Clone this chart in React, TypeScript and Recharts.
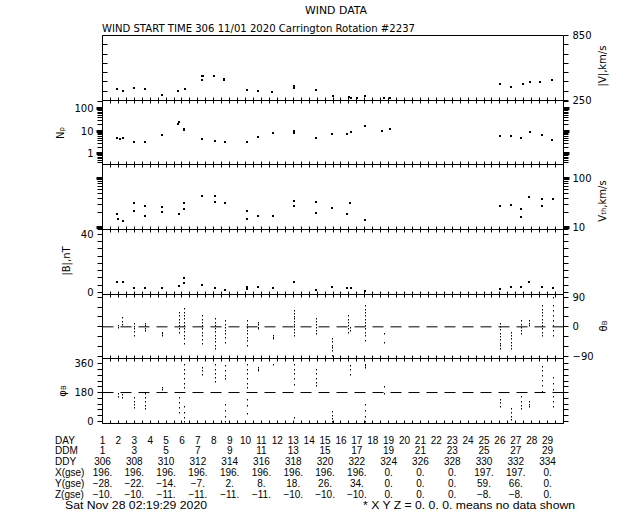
import { ReferenceLine, Scatter, ScatterChart, XAxis, YAxis } from "recharts"

// bottom table
const dayNums = [1, 2, 3, 4, 5, 6, 7, 8, 9, 10, 11, 12, 13, 14, 15, 16, 17, 18, 19, 20, 21, 22, 23, 24, 25, 26, 27, 28, 29]
const ddm = [1, 3, 5, 7, 9, 11, 13, 15, 17, 19, 21, 23, 25, 27, 29]
const ddy = [306, 308, 310, 312, 314, 316, 318, 320, 322, 324, 326, 328, 330, 332, 334]
const xGse = [196, 196, 196, 196, 196, 196, 196, 196, 196, 0, 0, 0, 197, 197, 0]
const yGse = [-28, -22, -14, -7, 2, 8, 18, 26, 34, 0, 0, 0, 59, 66, 0]
const zGse = [-10, -10, -11, -11, -11, -11, -10, -10, -10, 0, 0, 0, -8, -8, 0]
const rowNames = ["DAY", "DDM", "DDY", "X(gse)", "Y(gse)", "Z(gse)"]

// [day of month, value]
const speed: [number, number][] = [
  [1.92, 352], [2.28, 342], [2.97, 364], [3.66, 354], [4.75, 303], [5.74, 342], [6.18, 358],
  [7.27, 472], [7.27, 441], [7.3, 480], [8.04, 472], [8.67, 450], [8.67, 435], [10.1, 349],
  [10.8, 340], [11.67, 327], [13.03, 388], [13.05, 367], [14.4, 349], [15.5, 296], [16.5, 280],
  [16.65, 275], [17.0, 271], [17.5, 287], [18.7, 275], [19.1, 275], [25.99, 404], [26.7, 379],
  [27.46, 404], [27.87, 425], [28.55, 425], [29.28, 435],
]
const density: [number, number][] = [
  [1.92, 4.9], [2.1, 4.7], [2.3, 4.8], [2.97, 3.3], [3.7, 3.3], [4.75, 7], [5.8, 25], [5.75, 20],
  [6.1, 13], [6.12, 11], [7.26, 4.6], [8.06, 3.8], [8.68, 3.4], [10.1, 3.2], [10.8, 5.5],
  [11.74, 8.2], [13.03, 10.5], [13.05, 8.5], [14.4, 4.9], [15.45, 7.7], [16.4, 7.2], [16.65, 9.2],
  [17.5, 16.8], [18.6, 10], [19.1, 12], [26.0, 6.1], [26.7, 6.1], [27.35, 4.9], [27.9, 9.1],
  [28.65, 7], [29.3, 4.3],
]
const thermal: [number, number][] = [
  [1.92, 19], [1.95, 15], [2.3, 13.7], [2.97, 32], [2.97, 22], [3.7, 27], [3.7, 17], [4.75, 26],
  [4.75, 21], [5.8, 19], [6.11, 31], [6.11, 24], [7.26, 45], [8.06, 45], [8.06, 33], [8.69, 32],
  [10.07, 22], [10.07, 15], [10.79, 17.4], [11.74, 17.4], [13.03, 35], [13.03, 28], [14.4, 33],
  [14.4, 20], [15.45, 25], [16.4, 19], [16.6, 31], [17.5, 13.8], [26.0, 28], [26.7, 29],
  [27.35, 24], [27.35, 16], [27.81, 42], [28.65, 39], [28.65, 28], [29.34, 39],
]
const bMag: [number, number][] = [
  [1.92, 7.1], [2.3, 7.1], [2.97, 3], [3.7, 3], [4.75, 3], [5.8, 4.3], [6.11, 9.7], [6.11, 6.2],
  [7.26, 5.3], [8.06, 3], [8.69, 1.4], [10.07, 3.7], [10.07, 2.5], [10.79, 3.7], [11.74, 3],
  [13.03, 7.1], [14.4, 1.4], [15.45, 3.7], [16.4, 3.2], [16.65, 3.2], [17.5, 0.7], [26.03, 2.5],
  [26.72, 3.7], [27.35, 4.1], [27.81, 7.1], [28.65, 4.1], [29.34, 3],
]
// [day, values in a vertical streak]
const thetaGroups: [number, number[]][] = [
  [1.95, [0, 5]], [2.25, [10, 17, 30]], [2.97, [11, 3, -5, -12, -25]], [3.7, [11, 5, -3, -10]],
  [4.75, [-15, -20, -25]], [5.8, [45, 35, 25, 15, 5, -5, -15]],
  [6.11, [56, 46, 36, 26, 16, 6, -4, -14, -24, -34, -49]], [7.26, [35, 25, 15, 5, -5, -15, -25, -37, -49]],
  [8.06, [26, 16, 6, -4, -14, -24, -34, -44, -54, -64]], [8.69, [20, 10, 0, -10, -20, -31, -45]],
  [10.07, [20, 10, 0, -10, -20, -30, -40, -55]], [10.79, [15, 8, 0, -4]], [11.74, [-25, -30, -34]],
  [13.03, [50, 42, 34, 26, 18, 10, 2, -8, -16, -25]], [14.4, [26, 18, 10, 0, -10, -19]],
  [15.45, [-34, -44, -54, -62, -70, -85]], [16.45, [35, 25, 15, 5, -5, -16]], [16.6, [0, -10]],
  [17.5, [65, 55, 45, 35, 25, 15, 5, -5, -15, -25, -40]], [18.7, [-20, -45]],
  [26.03, [11, 2, -8, -18, -28, -38, -48, -56, -64]], [26.72, [-15, -25, -35, -45, -55, -64]],
  [27.35, [20, 10, 0, -10, -19]], [27.81, [20, 12, 5]],
  [28.65, [65, 55, 45, 35, 25, 15, 5, -5, -15, -25]], [29.34, [90, 65, 50, 35, 20, 5, -10, -25]],
]
const phiGroups: [number, number[]][] = [
  [1.95, [174, 160]], [2.25, [170, 150]], [2.97, [150, 130, 110, 88]], [3.7, [174, 150, 125, 100, 80]],
  [4.75, [213, 205]], [5.8, [150, 120, 90, 56]], [6.11, [358, 330, 300, 270, 240, 213, 98, 60, 25, 4]],
  [7.26, [339, 320, 297]], [8.06, [360, 330, 300, 276, 255]], [8.69, [350, 320, 290, 268, 111, 70, 35, 0]],
  [10.07, [360, 330, 300, 270, 240, 213, 142, 100, 50]], [10.79, [339, 325, 318]], [11.74, [358]],
  [13.03, [358, 330, 300, 270, 235, 25]], [14.4, [330, 300, 270, 245, 224]], [15.45, [67, 40, 20, 0]],
  [16.6, [355, 330, 299]], [17.5, [360, 350, 339, 111, 70, 35, 4]], [18.7, [180, 220]],
  [26.0, [142, 120, 98]], [26.72, [80, 55, 30, 17]], [27.35, [161, 130, 100, 80]], [27.81, [130, 110, 98]],
  [28.65, [349, 320, 290, 260, 230, 192]], [29.34, [276, 240, 200, 160, 130, 98]],
]

const xTicks = Array.from({ length: 59 }, (_, i) => 1 + i / 2)
const vTicks = [250, 336, 421, 507, 593, 679, 764, 850]
const npTicks = [0.4, 0.5, 0.6, 0.7, 0.8, 0.9, 1, 2, 3, 4, 5, 6, 7, 8, 9, 10, 20, 30, 40, 50, 60, 70, 80, 90, 100, 200]
const vthTicks = [9, 10, 20, 30, 40, 50, 60, 70, 80, 90, 100]
const bTicks = [0, 5, 10, 15, 20, 25, 30, 35, 40]
const thetaTicks = [-90, -60, -30, 0, 30, 60, 90]
const phiTicks = [0, 36, 72, 108, 144, 180, 216, 252, 288, 324, 360]
const decades = [1, 10, 100]

const PLOT_L = 102.5
const PLOT_R = 563.5
const TABLE_H = 86
const FONT = "DejaVu Sans"
const TFONT = "Liberation Sans"

const pairs = (a: [number, number][]) => a.map(([d, v]) => ({ d, v }))
const streaks = (a: [number, number[]][]) => a.flatMap(([d, vs]) => vs.map((v) => ({ d, v })))

const minus = (v: number) => (v < 0 ? `\u2212${-v}` : `${v}`)
const crisp = (n: number) => Math.round(n - 0.5) + 0.5

function BigDot(p: any) {
  return <rect x={Math.round(p.cx) - 1} y={Math.round(p.cy) - 1} width={2} height={2} fill="#000" />
}
function SmallDot(p: any) {
  return <rect x={Math.round(p.cx)} y={Math.round(p.cy)} width={1} height={1.5} fill="#000" />
}

// y ticks: own tick line (outward unless inward), thick decade marks on log axes, optional labels
function yTick(side: "left" | "right", labels: number[], log: boolean, inward = false) {
  return (p: any) => {
    const v = p.payload.value
    const y = crisp(p.y)
    const edge = side === "left" ? PLOT_L : PLOT_R
    const out = side === "left" ? -1 : 1
    const dir = inward ? -out : out
    const major = log && decades.includes(v)
    return (
      <g>
        <line x1={edge} x2={edge + dir * 5} y1={y} y2={y} stroke="#000" />
        {major && <rect x={side === "left" ? edge - 6 : edge} y={y - 1.5} width={6} height={3} fill="#000" />}
        {labels.includes(v) && (
          <text
            x={edge + out * 9}
            y={p.y}
            dy="0.36em"
            textAnchor={side === "left" ? "end" : "start"}
            fontSize={10}
            fontFamily={FONT}
            fill="#000"
          >
            {minus(v)}
          </text>
        )}
      </g>
    )
  }
}

// x ticks: short marks pointing into the panel, and the data table under the last panel
function xTick(dir: 1 | -1, show: boolean, table = false) {
  return (p: any) => {
    const x = crisp(p.x)
    const d = p.payload.value
    const k = ddm.indexOf(d)
    const cells = !table || !dayNums.includes(d)
      ? []
      : k >= 0
        ? [`${d}`, `${ddm[k]}`, `${ddy[k]}`, `${minus(xGse[k])}.`, `${minus(yGse[k])}.`, `${minus(zGse[k])}.`]
        : [`${d}`]
    return (
      <g>
        {show && <line x1={x} x2={x} y1={p.y} y2={p.y + dir * 3} stroke="#000" />}
        {cells.map((c, i) => (
          <text key={i} x={p.x} y={p.y + 20 + i * 10.9} textAnchor="middle" fontSize={10} fontFamily={TFONT} fill="#000">
            {c}
          </text>
        ))}
      </g>
    )
  }
}

interface PanelProps {
  top: number
  plotH: number
  data: { d: number; v: number }[]
  domain: [number, number]
  ticks: number[]
  labels: number[]
  side: "left" | "right"
  log?: boolean
  dash?: number
  first?: boolean
  table?: boolean
  small?: boolean
}

function Panel({ top, plotH, data, domain, ticks, labels, side, log = false, dash, first, table, small }: PanelProps) {
  const h = table ? plotH + 0.5 + TABLE_H : plotH + 1
  const yCommon = {
    type: "number" as const,
    dataKey: "v",
    domain,
    ticks,
    interval: 0 as const,
    allowDataOverflow: true,
    scale: log ? ("log" as const) : ("linear" as const),
    width: 40,
    axisLine: false,
    tickLine: false,
  }
  const xCommon = {
    type: "number" as const,
    dataKey: "d",
    domain: [1, 30] as [number, number],
    ticks: xTicks,
    interval: 0 as const,
    allowDataOverflow: true,
    axisLine: false,
    tickLine: false,
    tickSize: -3,
    tickMargin: 3,
  }
  const frame = { xAxisId: "b", yAxisId: "l", stroke: "#000" }
  return (
    <div style={{ position: "absolute", left: 0, top }}>
      <ScatterChart
        width={640}
        height={h}
        margin={{ top: -0.5, bottom: table ? 0 : -0.5, left: 62.5, right: 36.5 }}
      >
        <XAxis xAxisId="b" {...xCommon} orientation="bottom" height={table ? TABLE_H : 1} tick={xTick(-1, true, table)} />
        <XAxis xAxisId="t" {...xCommon} orientation="top" height={1} tick={xTick(1, !first)} />
        <YAxis yAxisId="l" orientation="left" {...yCommon} tick={yTick("left", side === "left" ? labels : [], log, first)} />
        <YAxis yAxisId="r" orientation="right" {...yCommon} tick={yTick("right", side === "right" ? labels : [], log)} />
        <ReferenceLine {...frame} x={1} />
        <ReferenceLine {...frame} x={30} />
        <ReferenceLine {...frame} y={domain[0]} />
        <ReferenceLine {...frame} y={domain[1]} />
        {dash !== undefined && <ReferenceLine {...frame} y={dash} strokeDasharray="11 7" />}
        <Scatter
          xAxisId="b"
          yAxisId="l"
          data={data}
          shape={small ? SmallDot : BigDot}
          isAnimationActive={false}
        />
      </ScatterChart>
    </div>
  )
}

function Rot({ x, y, children }: { x: number; y: number; children: React.ReactNode }) {
  return (
    <text
      transform={`translate(${x},${y}) rotate(-90)`}
      textAnchor="middle"
      dominantBaseline="central"
      fontSize={10}
      fontFamily={FONT}
      fill="#000"
    >
      {children}
    </text>
  )
}

export default function App() {
  return (
    <div
      style={{ position: "fixed", left: 0, top: 0, width: 640, height: 512, background: "#fff", overflow: "hidden" }}
    >
      <style>{".recharts-surface{overflow:visible}"}</style>
      <Panel top={35} plotH={65} data={pairs(speed)} domain={[250, 850]} ticks={vTicks} labels={[250, 850]} side="right" first />
      <Panel top={100} plotH={64} data={pairs(density)} domain={[0.335, 232]} ticks={npTicks} labels={decades} side="left" log />
      <Panel top={164} plotH={65} data={pairs(thermal)} domain={[8.96, 198]} ticks={vthTicks} labels={[10, 100]} side="right" log />
      <Panel top={229} plotH={65} data={pairs(bMag)} domain={[-1.4, 43.4]} ticks={bTicks} labels={[0, 40]} side="left" />
      <Panel top={294} plotH={64} data={streaks(thetaGroups)} domain={[-96, 98]} ticks={thetaTicks} labels={[-90, 0, 90]} side="right" dash={0} small />
      <Panel top={358} plotH={65} data={streaks(phiGroups)} domain={[-14, 393]} ticks={phiTicks} labels={[0, 180, 360]} side="left" dash={180} small table />

      <svg width={640} height={512} style={{ position: "absolute", left: 0, top: 0, pointerEvents: "none" }}>
        <text x={305} y={14} fontSize={11} fontFamily={FONT} textLength={62} lengthAdjust="spacingAndGlyphs">
          WIND DATA
        </text>
        <text x={102} y={32} fontSize={10} fontFamily={FONT} textLength={313} lengthAdjust="spacingAndGlyphs">
          WIND START TIME 306 11/01 2020 Carrington Rotation #2237
        </text>
        <Rot x={602} y={66}>|V|,km/s</Rot>
        <Rot x={60} y={133}>
          N<tspan dy={2} fontSize={7}>p</tspan>
        </Rot>
        <Rot x={602} y={201}>
          V<tspan dy={2} fontSize={7}>th</tspan>
          <tspan dy={-2}>,km/s</tspan>
        </Rot>
        <Rot x={66} y={261}>|B|,nT</Rot>
        <Rot x={603} y={326}>
          {"\u03b8"}<tspan dy={2} fontSize={7}>B</tspan>
        </Rot>
        <Rot x={62} y={391}>
          {"\u03c6"}<tspan dy={2} fontSize={7}>B</tspan>
        </Rot>
        <g fontSize={10} fontFamily={TFONT}>
          {rowNames.map((r, i) => (
            <text key={r} x={55} y={443.5 + i * 10.9}>
              {r}
            </text>
          ))}
          <text x={65} y={509} textLength={142} lengthAdjust="spacingAndGlyphs">
            Sat Nov 28 02:19:29 2020
          </text>
          <text x={363} y={509} textLength={212} lengthAdjust="spacingAndGlyphs">
            * X Y Z = 0. 0. 0. means no data shown
          </text>
        </g>
      </svg>
    </div>
  )
}
